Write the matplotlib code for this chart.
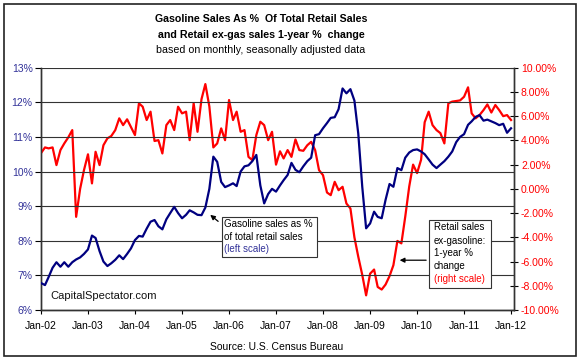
import matplotlib
matplotlib.use("Agg")
import matplotlib.pyplot as plt
import matplotlib.dates as mdates
import matplotlib.patches as patches
import pandas as pd
import numpy as np

plt.rcParams['font.family'] = ['Liberation Sans', 'DejaVu Sans']

dates = pd.date_range("2002-01-01", "2012-01-01", freq="MS")

gas_share = [
    6.78, 6.72, 6.95, 7.22, 7.38, 7.25, 7.38, 7.25, 7.38, 7.46, 7.52, 7.62,
    7.75, 8.15, 8.08, 7.70, 7.40, 7.27, 7.35, 7.45, 7.58, 7.47, 7.62, 7.78,
    8.02, 8.14, 8.12, 8.35, 8.55, 8.60, 8.42, 8.33, 8.62, 8.80, 8.98, 8.80,
    8.65, 8.75, 8.88, 8.82, 8.75, 8.74, 8.96, 9.50, 10.43, 10.28, 9.70, 9.55,
    9.60, 9.66, 9.58, 10.00, 10.15, 10.18, 10.30, 10.48, 9.60, 9.08, 9.35, 9.50,
    9.42, 9.60, 9.75, 9.90, 10.25, 10.05, 9.98, 10.15, 10.30, 10.40, 11.05, 11.08,
    11.25, 11.40, 11.55, 11.57, 11.80, 12.40, 12.26, 12.38, 12.05, 11.10, 9.56, 8.36,
    8.50, 8.84, 8.69, 8.65, 9.18, 9.64, 9.56, 10.10, 10.04, 10.40, 10.55, 10.62,
    10.64, 10.58, 10.50, 10.35, 10.20, 10.10, 10.20, 10.30, 10.43, 10.58, 10.85, 11.00,
    11.08, 11.35, 11.45, 11.58, 11.63, 11.47, 11.50, 11.45, 11.40, 11.34, 11.38, 11.12,
    11.25,
]

retail_exgas_yoy = [
    2.95, 3.42, 3.34, 3.42, 1.96, 3.20, 3.75, 4.25, 4.85, -2.31, 0.00, 1.55,
    2.85, 0.45, 3.06, 1.96, 3.60, 4.17, 4.36, 4.85, 5.82, 5.26, 5.74, 5.10,
    4.44, 7.06, 6.78, 5.68, 6.37, 3.95, 4.02, 2.92, 5.26, 5.68, 4.85, 6.78,
    6.23, 6.37, 4.02, 7.06, 4.71, 7.40, 8.65, 6.80, 3.42, 3.75, 4.99, 4.02,
    7.33, 5.68, 6.37, 4.71, 4.85, 2.64, 2.37, 4.44, 5.54, 5.26, 4.02, 4.71,
    2.00, 3.10, 2.51, 3.20, 2.64, 4.08, 3.20, 3.14, 3.60, 3.88, 3.20, 1.55,
    1.13, -0.30, -0.52, 0.58, -0.11, 0.17, -1.21, -1.62, -4.00, -5.60, -7.10, -8.79,
    -7.00, -6.66, -8.10, -8.31, -7.90, -7.20, -6.30, -4.30, -4.50, -2.30, 0.20, 2.00,
    1.30, 2.40, 5.50, 6.37, 5.26, 4.85, 4.60, 3.75, 7.06, 7.20, 7.25, 7.30,
    7.60, 8.38, 6.23, 5.82, 6.09, 6.50, 6.97, 6.30, 6.92, 6.50, 6.00, 6.09,
    5.68,
]

left_ticks = [6, 7, 8, 9, 10, 11, 12, 13]
right_ticks = [-10, -8, -6, -4, -2, 0, 2, 4, 6, 8, 10]

NAVY = '#000080'
RED = '#FF0000'
LBLUE = '#333399'

W, H = 580, 361
fig = plt.figure(figsize=(W/100, H/100), dpi=100)


def fx(px):
    return px / W


def fy(py):
    return 1 - py / H


ax = fig.add_axes([fx(41), fy(310), (514-41)/W, (310-67.7)/H])
ax2 = ax.twinx()

ax.set_ylim(6, 13)
ax2.set_ylim(-10, 10)
ax.set_xlim(pd.Timestamp("2002-01-01"), pd.Timestamp("2012-01-24"))

for v in left_ticks:
    ax.axhline(v, color='#333333', lw=0.8, zorder=1)

ax.plot(dates, gas_share, color=NAVY, lw=1.6, zorder=3)
ax2.plot(dates, retail_exgas_yoy, color=RED, lw=1.6, zorder=3)
ax.set_zorder(2)
ax.patch.set_visible(False)
ax2.set_zorder(1)

ax.set_yticks(left_ticks)
ax.set_yticklabels([f"{v}%" for v in left_ticks], color=LBLUE, fontsize=7.5)
ax2.set_yticks(right_ticks)
ax2.set_yticklabels([f"{v:.2f}%" for v in right_ticks], color=RED, fontsize=7.5)

ax.xaxis.set_major_locator(mdates.YearLocator())
ax.xaxis.set_major_formatter(mdates.DateFormatter('%b-%y'))
ax.tick_params(axis='x', labelsize=7.5, direction='out', length=3, pad=5)
ax.tick_params(axis='y', direction='out', length=4, pad=2)
ax2.tick_params(axis='y', direction='inout', length=6, pad=2)

for a in (ax, ax2):
    a.spines['top'].set_visible(False)
    for s in ('left', 'right', 'bottom'):
        a.spines[s].set_color('#333333')
        a.spines[s].set_linewidth(1.0)

# Annotation box 1 (gasoline share)
fig.patches.append(patches.Rectangle((fx(221.5), fy(256.5)), 95/W, 40/H,
                                     transform=fig.transFigure, fc='white',
                                     ec='#333333', lw=0.8, zorder=5))
for txt, yy, col in [("Gasoline sales as %", 224.5, 'black'),
                     ("of total retail sales", 237, 'black'),
                     ("(left scale)", 249.5, LBLUE)]:
    fig.text(fx(223.5), fy(yy), txt, fontsize=7, color=col, ha='left',
             va='center', zorder=6)
ax.annotate("", xy=(pd.Timestamp("2005-07-22"), 8.80),
            xytext=(pd.Timestamp("2005-10-25"), 8.51),
            arrowprops=dict(arrowstyle='-|>', color='black', lw=0.9,
                            mutation_scale=7), zorder=6)

# Annotation box 2 (retail ex-gas)
fig.patches.append(patches.Rectangle((fx(429.3), fy(288.3)), 61.4/W, 68.3/H,
                                     transform=fig.transFigure, fc='white',
                                     ec='#333333', lw=0.8, zorder=5))
for txt, yy, col in [("Retail sales", 227.3, 'black'),
                     ("ex-gasoline:", 240.5, 'black'),
                     ("1-year %", 253.3, 'black'),
                     ("change", 265.8, 'black'),
                     ("(right scale)", 279.3, RED)]:
    fig.text(fx(434), fy(yy), txt, fontsize=7, color=col, ha='left',
             va='center', zorder=6)
ax2.annotate("", xy=(pd.Timestamp("2009-07-28"), -5.89),
             xytext=(pd.Timestamp("2010-04-03"), -5.89),
             arrowprops=dict(arrowstyle='-|>', color='black', lw=0.9,
                             mutation_scale=7), zorder=4)

ax.text(pd.Timestamp("2002-03-15"), 6.4, "CapitalSpectator.com", fontsize=8,
        va='center', ha='left', color='#111111')

# Titles
fig.text(fx(261), fy(19), "Gasoline Sales As %  Of Total Retail Sales",
         ha='center', va='center', fontsize=7.7, fontweight='bold')
fig.text(fx(261), fy(35), "and Retail ex-gas sales 1-year %  change",
         ha='center', va='center', fontsize=7.7, fontweight='bold')
fig.text(fx(261), fy(50), "based on monthly, seasonally adjusted data",
         ha='center', va='center', fontsize=7.7)
fig.text(fx(277), fy(347), "Source: U.S. Census Bureau",
         ha='center', va='center', fontsize=7.5)

fig.patches.append(patches.Rectangle((fx(4), fy(356)), 572/W, 352/H,
                                     transform=fig.transFigure, fill=False,
                                     ec='#222222', lw=1.2))

fig.savefig("out.png", dpi=100)
